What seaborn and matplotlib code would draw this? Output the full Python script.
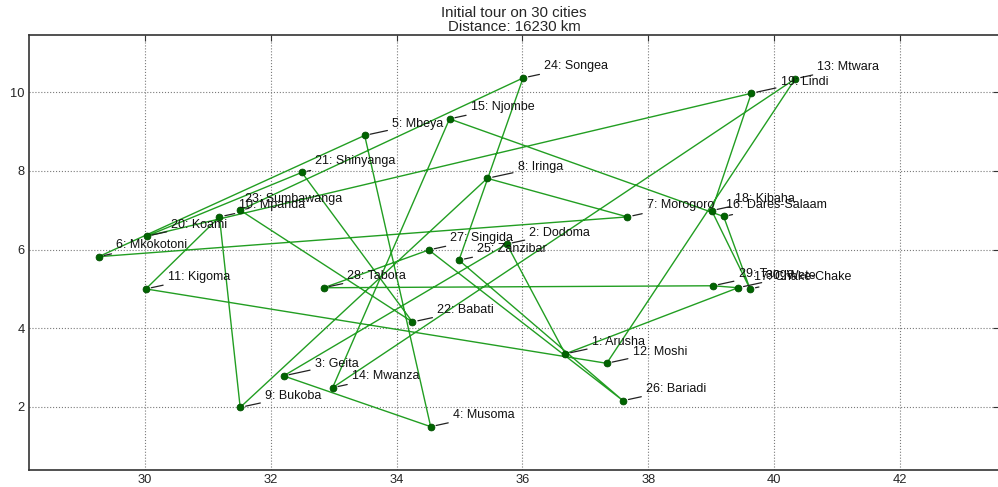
import numpy as np
import pandas as pd
import matplotlib
matplotlib.use("Agg")
import matplotlib.pyplot as plt
import seaborn as sns

# City data (x = longitude, y = |latitude|)
names = ["Arusha", "Dodoma", "Geita", "Musoma", "Mbeya", "Mkokotoni", "Morogoro",
         "Iringa", "Bukoba", "Mpanda", "Kigoma", "Moshi", "Mtwara", "Mwanza",
         "Njombe", "Dares-Salaam", "Chake-Chake", "Kibaha", "Lindi", "Koami",
         "Shinyanga", "Babati", "Sumbawanga", "Songea", "Zanzibar", "Bariadi",
         "Singida", "Tabora", "Tanga", "Wete"]
lon = [36.68, 35.75, 32.20, 34.54, 33.49, 29.26, 37.67, 35.44, 31.51, 31.18,
       30.01, 37.34, 40.34, 32.98, 34.84, 39.20, 39.62, 39.01, 39.64, 30.02,
       32.49, 34.25, 31.51, 36.01, 34.99, 37.60, 34.51, 32.84, 39.03, 39.43]
lat = [3.35, 6.14, 2.79, 1.50, 8.90, 5.82, 6.83, 7.81, 1.99, 6.83,
       5.00, 3.11, 10.34, 2.49, 9.32, 6.84, 5.00, 6.99, 9.97, 6.34,
       7.96, 4.16, 7.00, 10.36, 5.73, 2.16, 5.99, 5.03, 5.08, 5.03]

# initial tour: visit cities in their numbered order, then return home
tour = [1, 2, 3, 4, 5, 6, 7, 8, 9, 10, 11, 12, 13, 14, 15, 16, 17, 18, 19, 20,
        21, 22, 23, 24, 25, 26, 27, 28, 29, 30, 1]
distance_km = 16230

cities = pd.DataFrame({"name": names, "x": lon, "y": lat},
                      index=range(1, len(names) + 1))
path = cities.loc[tour].reset_index(drop=True)

sns.set_style("whitegrid", {"grid.linestyle": ":", "grid.color": "#7a7a7a",
                            "axes.edgecolor": "#333333", "xtick.direction": "in",
                            "ytick.direction": "in"})
plt.rcParams["font.family"] = ["Liberation Sans", "DejaVu Sans"]

fig = plt.figure(figsize=(9.98, 4.87), dpi=100)
ax = fig.add_axes([0.029, 0.035, 0.972, 0.893])

sns.lineplot(data=path, x="x", y="y", sort=False, estimator=None,
             color="#229e22", lw=1.0, ax=ax, zorder=2)
sns.scatterplot(data=cities, x="x", y="y", color="#006400", s=24,
                edgecolor="#004d00", linewidth=0.6, ax=ax, zorder=3)

# labels sit up and to the right of each city, joined by a short leader line
for idx, row in cities.iterrows():
    ax.annotate(f"{idx}: {row['name']}", xy=(row["x"], row["y"]),
                xytext=(53, 8.5), textcoords="offset pixels", ha="center",
                fontsize=9, color="#111111",
                arrowprops=dict(arrowstyle="-", color="#222222", lw=0.9,
                                shrinkA=1, shrinkB=4))

ax.set_xlim(28.15, 43.58)
ax.set_ylim(0.4, 11.45)
ax.set_xticks([30, 32, 34, 36, 38, 40, 42])
ax.set_yticks([2, 4, 6, 8, 10])
ax.tick_params(labelsize=9.3, pad=3, length=4, color="#333333",
               top=True, right=True)
ax.set_xlabel("")
ax.set_ylabel("")
ax.grid(True, linestyle=":", color="#7a7a7a", linewidth=0.8)
for s in ax.spines.values():
    s.set_linewidth(1.2)

ax.set_title(f"Initial tour on {len(names)} cities\nDistance: {distance_km} km",
             fontsize=10.8, pad=3, linespacing=0.95)

fig.savefig("out.png", dpi=100)
